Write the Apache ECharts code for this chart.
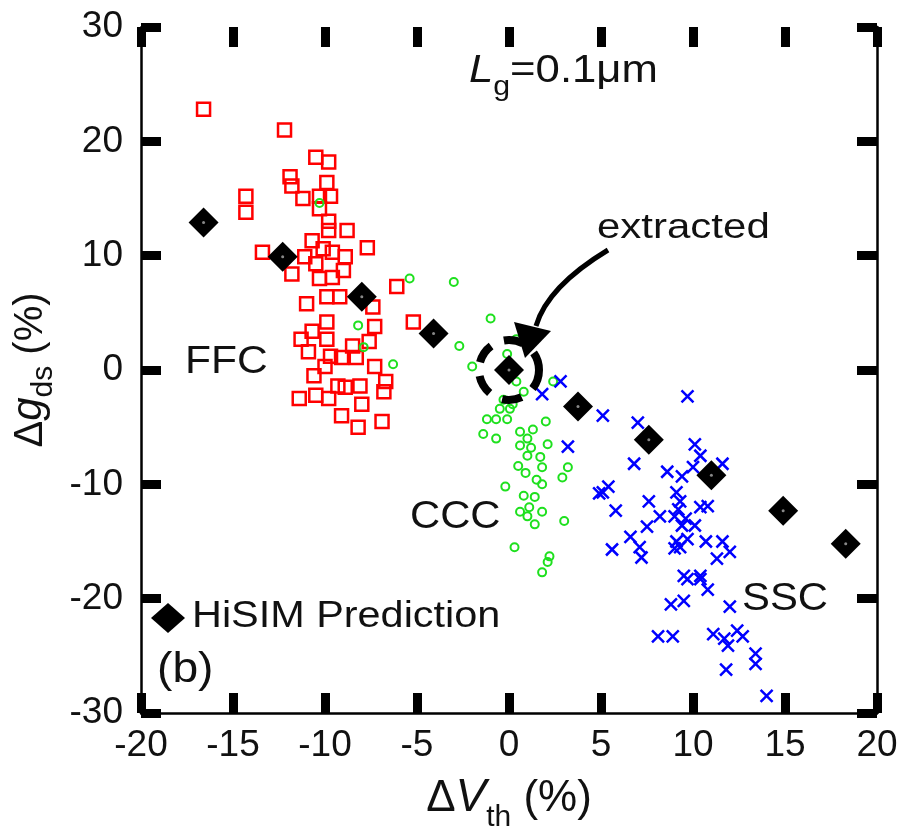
<!DOCTYPE html>
<html><head><meta charset="utf-8">
<script src="https://cdn.jsdelivr.net/npm/echarts@6/dist/echarts.min.js"></script>
<style>html,body{margin:0;padding:0;background:#fff}#c{width:921px;height:829px}</style>
</head><body><div id="c"></div>
<script>
const xTicks = [-20,-15,-10,-5,0,5,10,15,20];
const yTicks = [-30,-20,-10,0,10,20,30];
const hisimX = [-16.6,-12.3,-8.0,-4.1,0,3.75,7.6,11.0,14.9,18.3];
const hisimY = [12.9,9.9,6.4,3.2,0,-3.2,-6.1,-9.2,-12.3,-15.2];
const ffc = [[-16.6,22.8],[-12.2,21.0],[-10.5,18.6],[-9.8,18.2],[-11.9,16.9],[-11.8,16.1],[-9.9,16.4],[-14.3,15.2],[-14.3,13.8],[-11.2,15.0],[-10.3,15.2],[-9.7,15.2],[-10.3,14.1],[-9.8,13.0],[-9.8,12.2],[-8.8,12.2],[-13.4,10.3],[-10.7,11.3],[-10.1,10.6],[-9.6,10.3],[-8.9,9.9],[-7.7,10.7],[-11.1,9.9],[-10.5,9.3],[-11.8,8.4],[-10.3,8.0],[-9.6,8.1],[-9.0,8.7],[-6.1,7.3],[-9.9,6.4],[-9.2,6.4],[-11.0,5.8],[-7.4,5.5],[-7.3,3.8],[-5.2,4.2],[-9.9,4.2],[-10.7,3.4],[-11.3,2.7],[-9.9,2.7],[-7.6,2.5],[-10.9,1.6],[-9.7,1.2],[-8.5,2.1],[-8.3,1.1],[-9.1,1.1],[-10.0,0.3],[-7.3,0.3],[-6.7,-1.0],[-6.8,-1.9],[-9.3,-1.4],[-8.9,-1.5],[-8.1,-1.4],[-9.8,-2.5],[-8.0,-3.0],[-9.1,-4.0],[-6.9,-4.5],[-8.2,-5.0],[-11.4,-2.5],[-10.6,-0.5],[-10.5,-2.2]];
const ccc = [[-10.3,14.6],[-5.4,8.0],[-3.0,7.7],[-1.0,4.5],[-8.2,3.9],[-2.7,2.1],[-7.9,2.0],[-6.3,0.5],[-2.0,0.3],[0.4,2.7],[-0.1,1.4],[0.4,-1.0],[0.8,-1.9],[2.4,-1.0],[-0.5,-3.4],[0.05,-3.4],[-1.2,-4.3],[-0.7,-4.3],[-0.1,-4.3],[2.0,-4.5],[-1.4,-5.6],[-0.7,-6.0],[0.6,-5.4],[1.0,-6.0],[1.3,-5.2],[2.1,-6.5],[0.6,-6.6],[1.0,-7.5],[1.7,-7.6],[0.5,-8.4],[1.8,-8.5],[3.2,-8.5],[2.9,-9.4],[1.8,-10.0],[-0.2,-10.2],[0.8,-11.0],[1.4,-11.1],[0.6,-12.4],[1.0,-12.8],[1.8,-12.4],[1.4,-13.5],[3.0,-13.2],[0.3,-15.5],[2.2,-16.3],[2.1,-16.8],[1.8,-17.7],[1.2,-6.8],[0.9,-9.0],[1.5,-9.6],[1.1,-12.0],[0.2,-3.0],[-0.3,-2.6]];
const ssc = [[2.8,-1.0],[1.8,-2.1],[3.2,-6.7],[5.1,-10.7],[5.1,-4.0],[9.7,-2.3],[7.0,-4.6],[10.1,-6.5],[10.4,-7.5],[6.8,-8.2],[8.6,-8.9],[9.4,-9.3],[10.0,-8.5],[11.6,-8.2],[5.4,-10.2],[4.9,-10.8],[9.1,-10.7],[7.6,-11.5],[9.3,-11.5],[10.4,-12.0],[10.8,-11.9],[5.8,-12.3],[8.2,-12.8],[9.0,-12.8],[7.5,-13.7],[9.4,-13.6],[10.1,-13.6],[6.6,-14.6],[9.1,-15.0],[9.7,-14.8],[5.6,-15.7],[7.1,-15.5],[7.2,-16.4],[10.7,-15.0],[11.6,-15.0],[11.3,-16.5],[12.0,-15.9],[9.3,-15.5],[9.5,-18.0],[10.4,-18.0],[9.7,-18.3],[10.4,-18.3],[10.8,-19.2],[8.8,-20.5],[9.5,-20.2],[12.0,-20.7],[8.1,-23.3],[8.9,-23.3],[11.1,-23.1],[11.7,-23.5],[12.4,-22.8],[12.7,-23.3],[11.9,-24.1],[13.4,-24.8],[13.4,-25.7],[11.8,-26.2],[14.0,-28.5],[9.2,-12.2],[9.6,-13.0],[9.0,-15.6]];
const labels = {lg:'L', lgSub:'g', lgVal:'=0.1μm', extracted:'extracted', ffc:'FFC', ccc:'CCC', ssc:'SSC', panel:'(b)', legend:'HiSIM Prediction'};

const hisim = hisimX.map((x,i)=>[x,hisimY[i]]);
const FONT = '"Liberation Sans", Arial, sans-serif';
const INK = '#111';
const chart = echarts.init(document.getElementById('c'));
const tick = {show:true, inside:true, length:20, lineStyle:{color:'#000', width:9}};
const axBase = (pos, mn, mx, iv, showLine, showLabel, margin) => ({
  type:'value', position:pos, min:mn, max:mx, interval:iv,
  axisLine:{show:showLine, onZero:false, lineStyle:{color:'#000', width:2.5}},
  axisTick:tick, splitLine:{show:false},
  axisLabel:{show:showLabel, fontSize:37, color:INK, fontFamily:FONT, margin:margin}
});
const nameRich = {
  d:{fontSize:44,fontFamily:FONT,color:INK,verticalAlign:'bottom',lineHeight:52},
  v:{fontSize:46,fontFamily:FONT,fontStyle:'italic',color:INK,verticalAlign:'bottom',lineHeight:52},
  s:{fontSize:30,fontFamily:FONT,color:INK,verticalAlign:'bottom',lineHeight:52,padding:[0,0,-12,0]},
  p:{fontSize:44,fontFamily:FONT,color:INK,verticalAlign:'bottom',lineHeight:52}};
const xa0 = axBase('bottom',-20,20,5,true,true,14);
xa0.name = '{d|Δ}{v|V}{s|th}{p| (%)}';
xa0.nameLocation='middle'; xa0.nameGap=56;
xa0.nameTextStyle={rich:nameRich};
const xa1 = axBase('top',-20,20,5,false,false,8);
const ya0 = axBase('left',-30,30,10,true,true,18);
ya0.name = '{d|Δ}{v|g}{s|ds}{p| (%)}';
ya0.nameLocation='middle'; ya0.nameGap=64; ya0.nameRotate=90;
ya0.nameTextStyle={rich:{
  d:{fontSize:40,fontFamily:FONT,color:INK,verticalAlign:'bottom',lineHeight:48},
  v:{fontSize:42,fontFamily:FONT,fontStyle:'italic',color:INK,verticalAlign:'bottom',lineHeight:48},
  s:{fontSize:30,fontFamily:FONT,color:INK,verticalAlign:'bottom',lineHeight:48,padding:[0,0,-8,0]},
  p:{fontSize:40,fontFamily:FONT,color:INK,verticalAlign:'bottom',lineHeight:48}}};
const ya1 = axBase('right',-30,30,10,true,false,8);

chart.setOption({
  animation:false,
  grid:{left:141, right:44, top:27, bottom:116, containLabel:false, outerBoundsMode:'none'},
  xAxis:[xa0, xa1],
  yAxis:[ya0, ya1],
  legend:{show:true, left:151, top:603, padding:0, data:[labels.legend], icon:'diamond', itemWidth:34, itemHeight:30, itemGap:0,
    formatter:()=>'', textStyle:{fontSize:1}},
  series:[
    {name:'FFC', type:'scatter', data:ffc, symbol:'rect', symbolSize:13,
     itemStyle:{opacity:1, color:'rgba(255,255,255,0)', borderColor:'#ff0000', borderWidth:2.5}},
    {name:'CCC', type:'scatter', data:ccc, symbol:'circle', symbolSize:8,
     itemStyle:{opacity:1, color:'rgba(255,255,255,0)', borderColor:'#1ee01e', borderWidth:2}},
    {name:'SSC', type:'scatter', data:ssc, symbol:'path://M0,0L10,10M10,0L0,10', symbolSize:12,
     itemStyle:{opacity:1, color:'none', borderColor:'#0000ff', borderWidth:2.5}},
    {name:labels.legend, type:'scatter', data:hisim, symbol:'diamond', symbolSize:30, z:5,
     itemStyle:{opacity:1, color:'#000'}},
    {name:'dot', type:'scatter', data:hisim, symbol:'circle', symbolSize:3, z:6, silent:true,
     itemStyle:{opacity:1, color:'#888'}}
  ]
});

const c0 = chart.convertToPixel({gridIndex:0}, [0,0]);
const txt = (text, left, top, size, sx) => ({type:'text', left:left, top:top, z:10, scaleX:sx,
  style:{text:text, fontSize:size, fontFamily:FONT, fill:INK}});
chart.setOption({graphic:[
  {type:'circle', shape:{cx:c0[0], cy:c0[1], r:30}, z:10,
   style:{fill:'none', stroke:'#000', lineWidth:8, lineDash:[20,14]}},
  {type:'bezierCurve', z:10, shape:{x1:608, y1:250, x2:536, y2:326, cpx1:575, cpy1:270, cpx2:545, cpy2:295},
   style:{fill:'none', stroke:'#000', lineWidth:5}},
  {type:'polygon', z:10, shape:{points:[[514,322],[551,331],[525,358]]}, style:{fill:'#000'}},
  txt(labels.extracted, 597, 211, 35, 1.2),
  txt(labels.ffc, 185, 344, 38, 1.12),
  txt(labels.ccc, 410, 499, 38, 1.1),
  txt(labels.ssc, 742, 581, 38, 1.1),
  txt(labels.legend, 192, 599, 36, 1.15),
  txt(labels.panel, 157, 649, 42, 1.1),
  {type:'text', left:469, top:52, z:10, scaleX:1.12, style:{
    text:'{l|'+labels.lg+'}{s|'+labels.lgSub+'}{v|'+labels.lgVal+'}', fontFamily:FONT, fill:INK,
    rich:{l:{fontSize:39,fontStyle:'italic',fontFamily:FONT,verticalAlign:'bottom',lineHeight:44},
          s:{fontSize:27,fontFamily:FONT,verticalAlign:'bottom',lineHeight:44,padding:[0,0,-10,0]},
          v:{fontSize:39,fontFamily:FONT,verticalAlign:'bottom',lineHeight:44}}}}
]});
</script></body></html>
